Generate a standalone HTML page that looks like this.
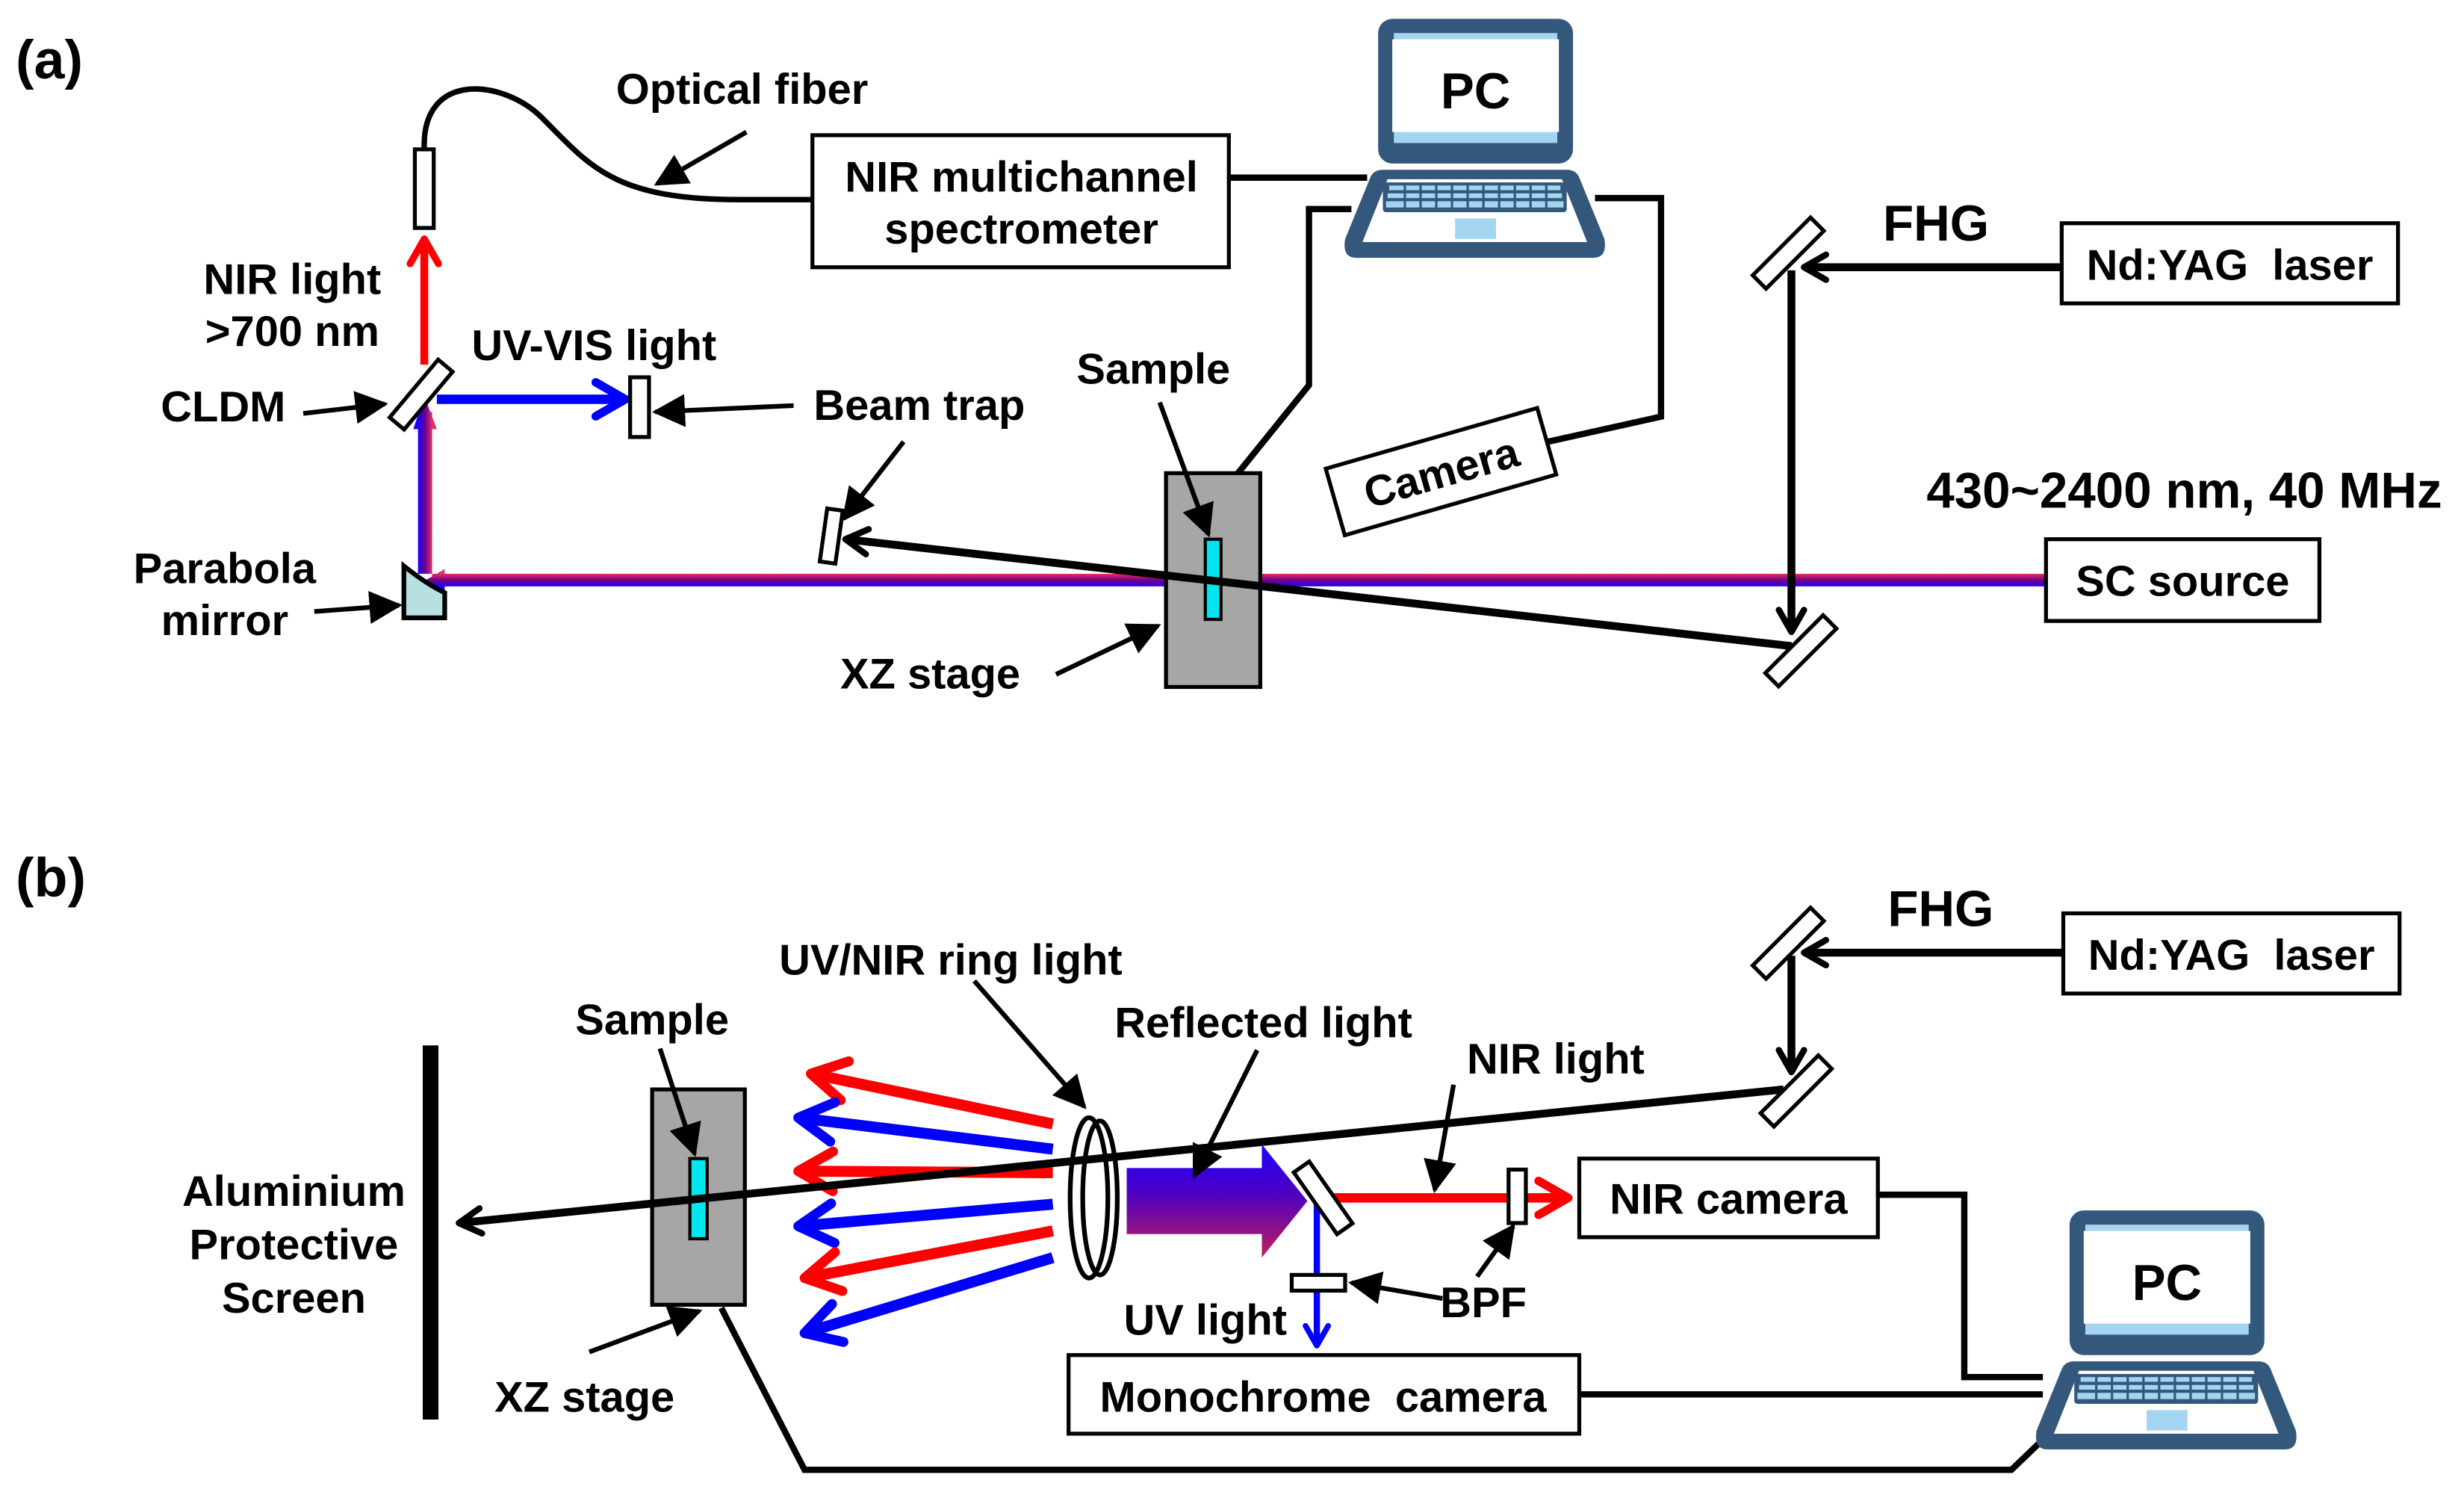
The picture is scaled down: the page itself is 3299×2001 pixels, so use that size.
<!DOCTYPE html>
<html><head><meta charset="utf-8"><style>
html,body{margin:0;padding:0;background:#fff;}
svg{display:block;}
text{font-family:"Liberation Sans",Arial,sans-serif;font-weight:bold;fill:#000;font-size:27.5px;}
</style></head><body>
<svg width="3299" height="2001" viewBox="0 0 1568 951" preserveAspectRatio="none" xmlns="http://www.w3.org/2000/svg">
<defs>
<marker id="tri" viewBox="0 0 10 10" refX="9" refY="5" markerWidth="7" markerHeight="7" orient="auto" markerUnits="strokeWidth"><path d="M0,0 L10,5 L0,10 Z" fill="#000"/></marker>
<marker id="chk" viewBox="0 0 10 10" refX="8" refY="5" markerWidth="4" markerHeight="4" orient="auto" markerUnits="strokeWidth"><path d="M1,1 L8,5 L1,9" fill="none" stroke="#000" stroke-width="2" stroke-linecap="round" stroke-linejoin="round"/></marker>
<marker id="chr" viewBox="0 0 10 10" refX="8" refY="5" markerWidth="4.5" markerHeight="4.5" orient="auto" markerUnits="strokeWidth"><path d="M1,1 L8,5 L1,9" fill="none" stroke="#f00" stroke-width="2" stroke-linecap="round" stroke-linejoin="round"/></marker>
<marker id="chb" viewBox="0 0 10 10" refX="8" refY="5" markerWidth="4.5" markerHeight="4.5" orient="auto" markerUnits="strokeWidth"><path d="M1,1 L8,5 L1,9" fill="none" stroke="#00f" stroke-width="2" stroke-linecap="round" stroke-linejoin="round"/></marker>
<linearGradient id="gh" gradientUnits="userSpaceOnUse" x1="0" y1="365" x2="0" y2="373"><stop offset="0" stop-color="#e0306a"/><stop offset="0.5" stop-color="#7a0080"/><stop offset="1" stop-color="#1a00ff"/></linearGradient>
<linearGradient id="gv" gradientUnits="userSpaceOnUse" x1="266" y1="0" x2="275" y2="0"><stop offset="0" stop-color="#1a00ff"/><stop offset="0.5" stop-color="#6a0090"/><stop offset="1" stop-color="#e0306a"/></linearGradient>
<linearGradient id="gb" gradientUnits="userSpaceOnUse" x1="0" y1="728" x2="0" y2="800"><stop offset="0" stop-color="#1a00ff"/><stop offset="0.45" stop-color="#5000c0"/><stop offset="1" stop-color="#c0205a"/></linearGradient>
<g id="laptop">
<rect x="21" y="0" width="124" height="92" rx="9" fill="#34577c"/>
<rect x="31" y="9" width="104" height="70" fill="#a3d4f0"/>
<rect x="30" y="13" width="106" height="59" fill="#fff"/>
<path d="M24,96 L141,96 Q147,96 149,101 L165,140 Q167,152 158,152 L7,152 Q-2,152 0,140 L16,101 Q18,96 24,96 Z" fill="#34577c"/>
<path d="M27,102 L138,102 L154,142 L11,142 Z" fill="#fff"/>
<rect x="24" y="104" width="117" height="19" rx="2" fill="#34577c"/>
<g fill="#a3d4f0">
<rect x="28" y="106" width="109" height="3"/><rect x="27" y="111" width="111" height="3"/><rect x="26" y="116" width="113" height="4"/>
</g>
<g stroke="#34577c" stroke-width="1.5"><path d="M38,105V121M48,105V121M58,105V121M68,105V121M78,105V121M88,105V121M98,105V121M108,105V121M118,105V121M128,105V121"/></g>
<rect x="70" y="127" width="26" height="13" fill="#a3d4f0"/>
<text x="83" y="57" style="font-size:32px" text-anchor="middle">PC</text>
</g>
</defs>

<!-- ============ PANEL A ============ -->
<text x="10" y="50" style="font-size:35px">(a)</text>
<path d="M270,95 C268,45 320,50 345,75 C375,105 390,127 470,127 L517,127" fill="none" stroke="#000" stroke-width="3.5"/>
<rect x="264" y="95" width="12" height="50" fill="#fff" stroke="#000" stroke-width="2.5"/>
<text x="392" y="66">Optical fiber</text>
<line x1="475" y1="84" x2="418" y2="117" stroke="#000" stroke-width="3" marker-end="url(#tri)"/>
<rect x="517" y="86" width="265" height="84" fill="#fff" stroke="#000" stroke-width="2.5"/>
<text x="650" y="122" text-anchor="middle">NIR multichannel</text>
<text x="650" y="155" text-anchor="middle">spectrometer</text>
<line x1="782" y1="113" x2="870" y2="113" stroke="#000" stroke-width="4"/>
<polyline points="860,133 833,133 833,245 787,302" fill="none" stroke="#000" stroke-width="4"/>
<polyline points="1015,126 1057,126 1057,265 985,281" fill="none" stroke="#000" stroke-width="4"/>
<use href="#laptop" transform="translate(856,12)"/>
<g transform="translate(917,300) rotate(-16)"><rect x="-70" y="-22" width="140" height="44" fill="#fff" stroke="#000" stroke-width="2.5"/><text x="0" y="10" text-anchor="middle">Camera</text></g>
<line x1="270" y1="232" x2="270" y2="152" stroke="#f00" stroke-width="5" marker-end="url(#chr)"/>
<text x="186" y="187" text-anchor="middle">NIR light</text>
<text x="186" y="220" text-anchor="middle">&gt;700 nm</text>
<rect x="275" y="365" width="1028" height="8" fill="url(#gh)"/>
<path d="M271,369 L283,362 L283,376 Z" fill="url(#gh)"/>
<rect x="266" y="262" width="9" height="103" fill="url(#gv)"/>
<path d="M270,252 L263,273 L278,273 Z" fill="url(#gv)"/>
<line x1="278" y1="254" x2="398" y2="254" stroke="#00f" stroke-width="6" marker-end="url(#chb)"/>
<rect x="401" y="240" width="12" height="38" fill="#fff" stroke="#000" stroke-width="2.5"/>
<text x="378" y="229" text-anchor="middle">UV-VIS light</text>
<text x="585" y="267" text-anchor="middle">Beam trap</text>
<line x1="505" y1="258" x2="417" y2="262" stroke="#000" stroke-width="3" marker-end="url(#tri)"/>
<rect x="-6" y="-24" width="12" height="48" fill="#fff" stroke="#000" stroke-width="2.5" transform="translate(268,251) rotate(40)"/>
<text x="142" y="268" text-anchor="middle">CLDM</text>
<line x1="193" y1="263" x2="245" y2="257" stroke="#000" stroke-width="3" marker-end="url(#tri)"/>
<path d="M257,360 L257,393 L283,393 L283,377 Q272,372 257,360 Z" fill="#b8e0e3" stroke="#000" stroke-width="3"/>
<text x="143" y="371" text-anchor="middle">Parabola</text>
<text x="143" y="404" text-anchor="middle">mirror</text>
<line x1="200" y1="389" x2="254" y2="385" stroke="#000" stroke-width="3" marker-end="url(#tri)"/>
<rect x="-5" y="-17" width="10" height="34" fill="#fff" stroke="#000" stroke-width="2.5" transform="translate(529,341) rotate(8)"/>
<line x1="575" y1="281" x2="537" y2="330" stroke="#000" stroke-width="3" marker-end="url(#tri)"/>
<rect x="742" y="301" width="60" height="136" fill="#a6a6a6" stroke="#000" stroke-width="2.5"/>
<rect x="767" y="343" width="10" height="51" fill="#00e5ee" stroke="#000" stroke-width="2"/>
<line x1="1140" y1="411" x2="538" y2="343" stroke="#000" stroke-width="5" marker-end="url(#chk)"/>
<text x="734" y="244" text-anchor="middle">Sample</text>
<line x1="738" y1="256" x2="769" y2="340" stroke="#000" stroke-width="3" marker-end="url(#tri)"/>
<text x="592" y="438" text-anchor="middle">XZ stage</text>
<line x1="672" y1="429" x2="737" y2="398" stroke="#000" stroke-width="3" marker-end="url(#tri)"/>
<rect x="1302" y="343" width="174" height="52" fill="#fff" stroke="#000" stroke-width="2.5"/>
<text x="1389" y="379" text-anchor="middle">SC source</text>
<text x="1390" y="323" style="font-size:32px" text-anchor="middle">430~2400 nm, 40 MHz</text>
<rect x="1312" y="142" width="214" height="51" fill="#fff" stroke="#000" stroke-width="2.5"/>
<text x="1419" y="178" text-anchor="middle">Nd:YAG&#160; laser</text>
<text x="1232" y="153" style="font-size:32px" text-anchor="middle">FHG</text>
<line x1="1312" y1="170" x2="1148" y2="170" stroke="#000" stroke-width="5" marker-end="url(#chk)"/>
<line x1="1140" y1="172" x2="1140" y2="402" stroke="#000" stroke-width="5" marker-end="url(#chk)"/>
<rect x="-6" y="-26" width="12" height="52" fill="#fff" stroke="#000" stroke-width="2.5" transform="translate(1138,161) rotate(45)"/>
<rect x="-6" y="-26" width="12" height="52" fill="#fff" stroke="#000" stroke-width="2.5" transform="translate(1146,414) rotate(45)"/>

<!-- ============ PANEL B ============ -->
<text x="10" y="570" style="font-size:35px">(b)</text>
<line x1="274" y1="665" x2="274" y2="903" stroke="#000" stroke-width="10"/>
<text x="187" y="767" text-anchor="middle">Aluminium</text>
<text x="187" y="801" text-anchor="middle">Protective</text>
<text x="187" y="835" text-anchor="middle">Screen</text>
<rect x="415" y="693" width="59" height="137" fill="#a6a6a6" stroke="#000" stroke-width="2.5"/>
<rect x="439" y="737" width="11" height="51" fill="#00e5ee" stroke="#000" stroke-width="2"/>
<text x="415" y="658" text-anchor="middle">Sample</text>
<line x1="420" y1="667" x2="442" y2="734" stroke="#000" stroke-width="3" marker-end="url(#tri)"/>
<text x="372" y="898" text-anchor="middle">XZ stage</text>
<line x1="375" y1="860" x2="445" y2="834" stroke="#000" stroke-width="3" marker-end="url(#tri)"/>
<g stroke-width="7">
<line x1="670" y1="715" x2="516" y2="683" stroke="#f00" marker-end="url(#chr)"/>
<line x1="670" y1="731" x2="508" y2="711" stroke="#00f" marker-end="url(#chb)"/>
<line x1="670" y1="746" x2="508" y2="745" stroke="#f00" marker-end="url(#chr)"/>
<line x1="670" y1="766" x2="508" y2="780" stroke="#00f" marker-end="url(#chb)"/>
<line x1="670" y1="783" x2="512" y2="813" stroke="#f00" marker-end="url(#chr)"/>
<line x1="670" y1="800" x2="512" y2="848" stroke="#00f" marker-end="url(#chb)"/>
</g>
<line x1="1135" y1="693" x2="292" y2="778" stroke="#000" stroke-width="5" marker-end="url(#chk)"/>
<ellipse cx="693" cy="762" rx="12" ry="51" fill="none" stroke="#000" stroke-width="3"/>
<ellipse cx="700" cy="762" rx="11" ry="49" fill="none" stroke="#000" stroke-width="3"/>
<text x="605" y="620" text-anchor="middle">UV/NIR ring light</text>
<line x1="620" y1="624" x2="690" y2="704" stroke="#000" stroke-width="3" marker-end="url(#tri)"/>
<path d="M717,743 L803,743 L803,728 L832,764 L803,800 L803,785 L717,785 Z" fill="url(#gb)"/>
<text x="804" y="660" text-anchor="middle">Reflected light</text>
<line x1="800" y1="668" x2="760" y2="748" stroke="#000" stroke-width="3" marker-end="url(#tri)"/>
<line x1="838" y1="765" x2="838" y2="856" stroke="#00f" stroke-width="4" marker-end="url(#chb)"/>
<line x1="845" y1="762" x2="998" y2="762" stroke="#f00" stroke-width="6" marker-end="url(#chr)"/>
<rect x="-6" y="-24" width="12" height="48" fill="#fff" stroke="#000" stroke-width="2.5" transform="translate(842,762) rotate(-35)"/>
<rect x="960" y="744" width="11" height="34" fill="#fff" stroke="#000" stroke-width="2.5"/>
<rect x="822" y="811" width="34" height="10" fill="#fff" stroke="#000" stroke-width="2.5"/>
<text x="990" y="683" text-anchor="middle">NIR light</text>
<line x1="925" y1="690" x2="913" y2="757" stroke="#000" stroke-width="3" marker-end="url(#tri)"/>
<text x="944" y="838" text-anchor="middle">BPF</text>
<line x1="918" y1="826" x2="860" y2="816" stroke="#000" stroke-width="3" marker-end="url(#tri)"/>
<line x1="940" y1="812" x2="963" y2="780" stroke="#000" stroke-width="3" marker-end="url(#tri)"/>
<text x="767" y="849" text-anchor="middle">UV light</text>
<rect x="1005" y="737" width="190" height="50" fill="#fff" stroke="#000" stroke-width="2.5"/>
<text x="1100" y="772" text-anchor="middle">NIR camera</text>
<rect x="680" y="862" width="325" height="50" fill="#fff" stroke="#000" stroke-width="2.5"/>
<text x="842" y="898" text-anchor="middle">Monochrome&#160; camera</text>
<polyline points="1195,760 1250,760 1250,876 1300,876" fill="none" stroke="#000" stroke-width="4"/>
<line x1="1005" y1="887" x2="1300" y2="887" stroke="#000" stroke-width="4"/>
<polyline points="459,832 512,935 1280,935 1305,911" fill="none" stroke="#000" stroke-width="4"/>
<use href="#laptop" transform="translate(1296,770)"/>
<rect x="1313" y="581" width="214" height="51" fill="#fff" stroke="#000" stroke-width="2.5"/>
<text x="1420" y="617" text-anchor="middle">Nd:YAG&#160; laser</text>
<text x="1235" y="589" style="font-size:32px" text-anchor="middle">FHG</text>
<line x1="1313" y1="606" x2="1148" y2="606" stroke="#000" stroke-width="5" marker-end="url(#chk)"/>
<line x1="1140" y1="608" x2="1140" y2="682" stroke="#000" stroke-width="5" marker-end="url(#chk)"/>
<rect x="-6" y="-26" width="12" height="52" fill="#fff" stroke="#000" stroke-width="2.5" transform="translate(1138,600) rotate(45)"/>
<rect x="-6" y="-26" width="12" height="52" fill="#fff" stroke="#000" stroke-width="2.5" transform="translate(1143,694) rotate(45)"/>
</svg>
</body></html>
